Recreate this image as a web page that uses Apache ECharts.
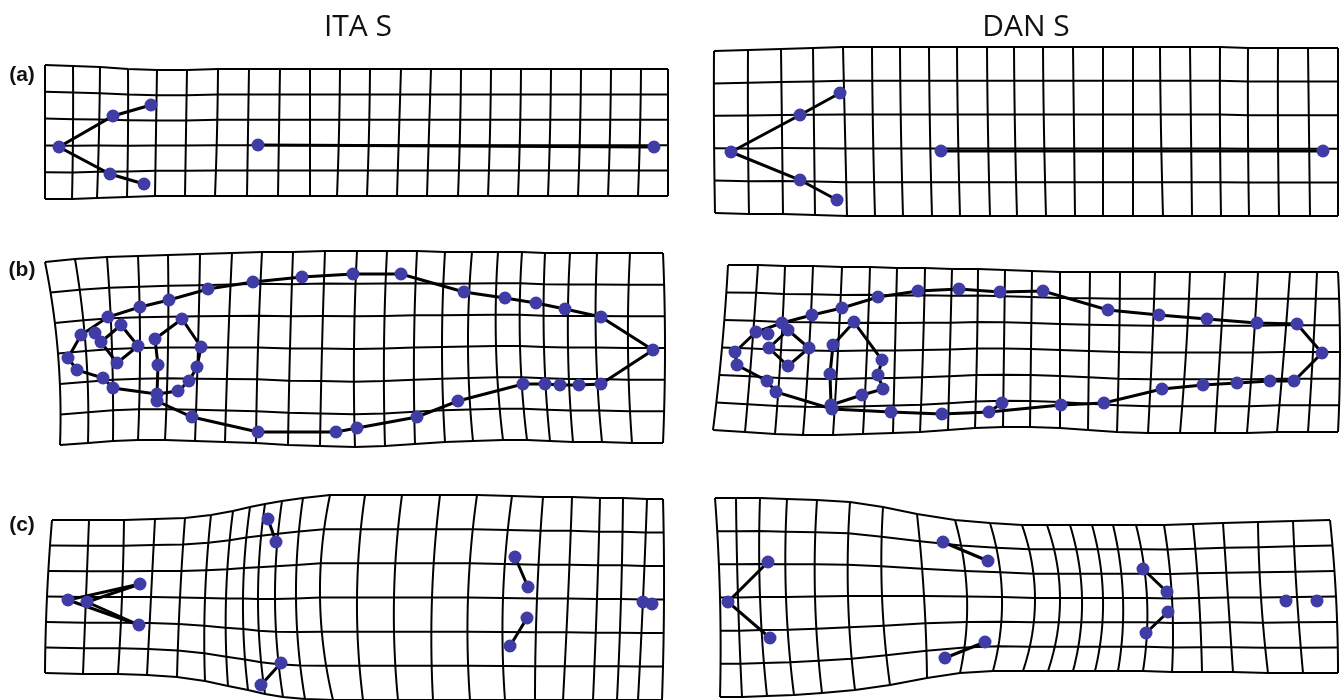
<!DOCTYPE html>
<html>
<head>
<meta charset="utf-8">
<script src="https://cdn.jsdelivr.net/npm/echarts@6/dist/echarts.min.js"></script>
<style>html,body{margin:0;padding:0;background:#fff}#chart{width:1344px;height:700px}</style>
</head>
<body>
<div id="chart"></div>
<script>
// ---------- Column titles & panel labels ----------
const columnTitles = ['ITA S', 'DAN S'];
const panelLabels = ['(a)', '(b)', '(c)'];

// ---------- ITA S (a) ----------
const itaA_colTop = [45,73,100,128,157,187,218,249,280,310,340,370,401,431,461,491,521,551,581,611,641,668];
const itaA_colMid = [45,73,99,128,156,186,217,248,279,310,339,369,399,429,460,490,520,550,580,610,640,668];
const itaA_colBot = [45,72,97,127,155,185,215,247,278,310,337,367,397,427,458,488,518,548,578,608,638,668];
const itaA_topY = [65,66,67,69,70,70,69,69,69,69,69,69,69,69,69,69,69,69,69,69,69,69];
const itaA_botY = [199,199,198,197,196,196,196,196,196,196,196,196,196,196,196,196,196,196,196,196,196,196];
const itaA_rows = 5;
const itaA_points = [[59,147],[113,116],[151,105],[110,174],[144,184],[258,145],[654,147]];
const itaA_links = [[2,1,0,3,4],[5,6]];

// ---------- DAN S (a) ----------
const danA_colTop = [714,748,781,813,843,872,900,929,957,987,1014,1043,1073,1103,1133,1160,1190,1220,1248,1278,1308,1338];
const danA_colMid = [714,748,782,814,845,873,901,930,958,988,1015,1044,1074,1103,1133,1161,1191,1220,1248,1278,1309,1338];
const danA_colBot = [715,749,783,815,847,875,903,932,960,990,1017,1046,1075,1103,1133,1163,1192,1221,1249,1279,1310,1338];
const danA_topY = [51,50,49,48,47,47,47,47,47,47,47,47,47,47,47,47,47,47,48,48,48,48];
const danA_botY = [213,214,214,215,216,216,216,216,216,216,216,216,216,216,216,216,216,216,216,216,216,216];
const danA_rows = 5;
const danA_points = [[731,152],[800,115],[840,93],[800,180],[837,200],[941,151],[1323,151]];
const danA_links = [[2,1,0,3,4],[5,6]];

// ---------- ITA S (b) ----------
const itaB_colTop = [45,75,107,138,168,200,232,262,293,325,357,387,417,445,472,498,522,545,570,597,630,663];
const itaB_colMid = [58,86,112,140,168,198,228,258,290,322,354,384,414,442,468,496,520,544,568,596,628,665];
const itaB_colBot = [60,88,113,138,165,195,225,256,288,320,355,385,415,445,473,503,527,550,573,602,632,663];
const itaB_topY = [262,259,257,256,255,254,253,252,252,251,251,251,251,252,252,252,252,253,253,253,253,253];
const itaB_botY = [445,443,441,440,440,441,442,443,445,446,447,446,444,442,441,440,440,441,442,442,443,443];
const itaB_rows = 6;
const itaB_points = [
  [68,358],[81,335],[108,317],[140,307],[169,300],[208,289],[253,282],[302,277],[353,274],[401,274],
  [464,292],[505,298],[536,303],[565,309],[601,317],[653,350],[601,384],[579,385],[560,385],[545,384],
  [523,384],[458,401],[417,417],[357,428],[336,432],[258,432],[192,417],[157,401],[157,394],[113,388],
  [103,378],[77,370],
  [95,333],[101,342],[121,325],[138,346],[117,363],
  [155,339],[182,319],[201,347],[197,367],[189,381],[178,391],[158,365]
];
const itaB_links = [
  [0,1,2,3,4,5,6,7,8,9,10,11,12,13,14,15,16,17,18,19,20,21,22,23,24,25,26,27,28,29,30,31,0],
  [32,33],[33,34,35,36,33],
  [28,43,37,38,39,40,41,42,28]
];

// ---------- DAN S (b) ----------
const danB_colTop = [728,758,785,813,842,870,897,925,952,978,1005,1032,1060,1090,1120,1155,1190,1225,1258,1290,1317,1338];
const danB_colMid = [722,752,781,809,838,867,895,923,950,977,1004,1031,1060,1089,1119,1152,1186,1220,1253,1284,1313,1340];
const danB_colBot = [713,745,775,803,833,863,893,920,948,975,1003,1030,1060,1088,1117,1148,1180,1215,1247,1277,1308,1338];
const danB_topY = [265,265,266,266,267,267,268,268,269,269,270,271,272,272,272,272,272,272,272,272,272,272];
const danB_botY = [430,432,434,435,435,434,433,432,430,428,427,427,428,430,432,433,433,433,433,432,432,432];
const danB_rows = 6;
const danB_points = [
  [735,352],[756,332],[782,323],[812,315],[842,308],[878,297],[918,291],[959,289],[1000,292],[1043,291],
  [1108,310],[1159,315],[1207,319],[1257,323],[1297,324],[1322,353],[1294,381],[1270,381],[1237,383],[1203,385],
  [1162,389],[1104,403],[1061,405],[1002,403],[989,412],[942,414],[891,412],[832,409],[831,405],[776,392],
  [767,381],[737,365],
  [768,334],[788,330],[809,348],[788,366],[769,348],
  [833,345],[854,322],[882,360],[878,375],[883,389],[862,395],[830,374]
];
const danB_links = [
  [0,1,2,3,4,5,6,7,8,9,10,11,12,13,14,15,16,17,18,19,20,21,22,24,25,26,27,29,30,31,0],
  [23,24],[33,34,35,36,33],
  [28,43,37,38,39,40,41,42,28]
];

// ---------- ITA S (c) ----------
const itaC_colTop = [52,89,124,155,185,211,233,250,265,282,303,330,365,402,440,477,512,543,572,600,623,647,663];
const itaC_colMid = [47,86,122,151,180,205,226,243,258,275,296,320,357,394,432,468,503,537,568,597,621,643,664];
const itaC_colBot = [45,83,118,147,177,205,228,248,265,283,305,333,363,398,433,470,505,535,563,593,617,638,662];
const itaC_topY = [520,520,520,519,518,515,511,507,504,501,498,495,495,495,495,495,496,497,497,498,498,499,499];
const itaC_botY = [673,674,674,675,677,681,686,690,694,697,699,700,700,700,700,700,700,700,700,700,700,700,700];
const itaC_rows = 6;
const itaC_points = [[68,600],[87,602],[140,584],[139,625],[268,519],[276,542],[281,663],[261,685],[515,557],[528,587],[527,618],[510,646],[643,602],[652,604]];
const itaC_links = [[2,0,3],[2,1,3],[4,5],[6,7],[8,9],[10,11],[12,13]];

// ---------- DAN S (c) ----------
const danC_colTop = [715,736,760,787,817,850,883,917,955,990,1022,1047,1070,1092,1113,1136,1164,1193,1223,1258,1293,1330];
const danC_colMid = [720,738,760,786,815,848,882,924,967,1002,1035,1060,1082,1103,1123,1147,1172,1199,1228,1261,1297,1336];
const danC_colBot = [720,742,767,794,822,855,890,927,960,993,1023,1048,1073,1095,1118,1143,1172,1202,1233,1268,1303,1338];
const danC_topY = [498,498,498,499,500,502,507,514,520,523,525,525,525,525,525,525,525,524,523,522,521,520];
const danC_botY = [697,697,696,695,693,690,685,678,673,671,671,671,671,671,671,671,672,672,672,673,673,673];
const danC_rows = 6;
const danC_points = [[728,602],[768,562],[770,638],[943,542],[988,561],[985,642],[945,658],[1143,569],[1167,592],[1168,612],[1146,633],[1286,601],[1317,601]];
const danC_links = [[1,0,2],[3,4],[5,6],[7,8],[9,10]];

// ---------- build ----------
const panels = [
  [itaA_colTop,itaA_colMid,itaA_colBot,itaA_topY,itaA_botY,itaA_rows,itaA_points,itaA_links],
  [danA_colTop,danA_colMid,danA_colBot,danA_topY,danA_botY,danA_rows,danA_points,danA_links],
  [itaB_colTop,itaB_colMid,itaB_colBot,itaB_topY,itaB_botY,itaB_rows,itaB_points,itaB_links],
  [danB_colTop,danB_colMid,danB_colBot,danB_topY,danB_botY,danB_rows,danB_points,danB_links],
  [itaC_colTop,itaC_colMid,itaC_colBot,itaC_topY,itaC_botY,itaC_rows,itaC_points,itaC_links],
  [danC_colTop,danC_colMid,danC_colBot,danC_topY,danC_botY,danC_rows,danC_points,danC_links]
];

function gridLines(colTop, colMid, colBot, topY, botY, nRows) {
  const nC = colTop.length;
  const pt = (i, t) => {
    const a = colTop[i], b = colBot[i], m = colMid[i];
    const c = 2 * m - 0.5 * (a + b);
    const x = (1 - t) * (1 - t) * a + 2 * t * (1 - t) * c + t * t * b;
    const y = topY[i] + (botY[i] - topY[i]) * t;
    return [x, y];
  };
  const data = [];
  for (let j = 0; j <= nRows; j++) {
    const coords = [];
    for (let i = 0; i < nC; i++) coords.push(pt(i, j / nRows));
    data.push({ coords });
  }
  const steps = nRows * 4;
  for (let i = 0; i < nC; i++) {
    const coords = [];
    for (let k = 0; k <= steps; k++) coords.push(pt(i, k / steps));
    data.push({ coords });
  }
  return data;
}

const series = [];
panels.forEach(p => {
  series.push({
    type: 'lines', coordinateSystem: 'cartesian2d', polyline: true, silent: true,
    lineStyle: { color: '#000', width: 2, opacity: 1 },
    data: gridLines(p[0], p[1], p[2], p[3], p[4], p[5])
  });
});
panels.forEach(p => {
  const pts = p[6];
  series.push({
    type: 'lines', coordinateSystem: 'cartesian2d', polyline: true, silent: true,
    lineStyle: { color: '#000', width: 3, opacity: 1 },
    data: p[7].map(ch => ({ coords: ch.map(k => pts[k]) }))
  });
});
panels.forEach(p => {
  series.push({
    type: 'scatter', symbol: 'circle', symbolSize: 13, silent: true,
    itemStyle: { color: '#3f3ca6', opacity: 1 },
    data: p[6]
  });
});

const chart = echarts.init(document.getElementById('chart'), null, { renderer: 'canvas' });
chart.setOption({
  animation: false,
  backgroundColor: '#fff',
  grid: { left: 0, right: 0, top: 0, bottom: 0 },
  xAxis: { type: 'value', min: 0, max: 1344, show: false },
  yAxis: { type: 'value', min: 0, max: 700, inverse: true, show: false },
  graphic: [
    { type: 'text', x: 358, y: 27, style: { text: columnTitles[0], font: '30px "Open Sans", sans-serif', fill: '#111', textAlign: 'center', textVerticalAlign: 'middle' } },
    { type: 'text', x: 1026, y: 27, style: { text: columnTitles[1], font: '30px "Open Sans", sans-serif', fill: '#111', textAlign: 'center', textVerticalAlign: 'middle' } },
    { type: 'text', x: 22, y: 75, style: { text: panelLabels[0], font: 'bold 21px "Liberation Sans", Arial, sans-serif', fill: '#111', textAlign: 'center', textVerticalAlign: 'middle' } },
    { type: 'text', x: 22, y: 270, style: { text: panelLabels[1], font: 'bold 21px "Liberation Sans", Arial, sans-serif', fill: '#111', textAlign: 'center', textVerticalAlign: 'middle' } },
    { type: 'text', x: 22, y: 525, style: { text: panelLabels[2], font: 'bold 21px "Liberation Sans", Arial, sans-serif', fill: '#111', textAlign: 'center', textVerticalAlign: 'middle' } }
  ],
  series: series
});
</script>
</body>
</html>
